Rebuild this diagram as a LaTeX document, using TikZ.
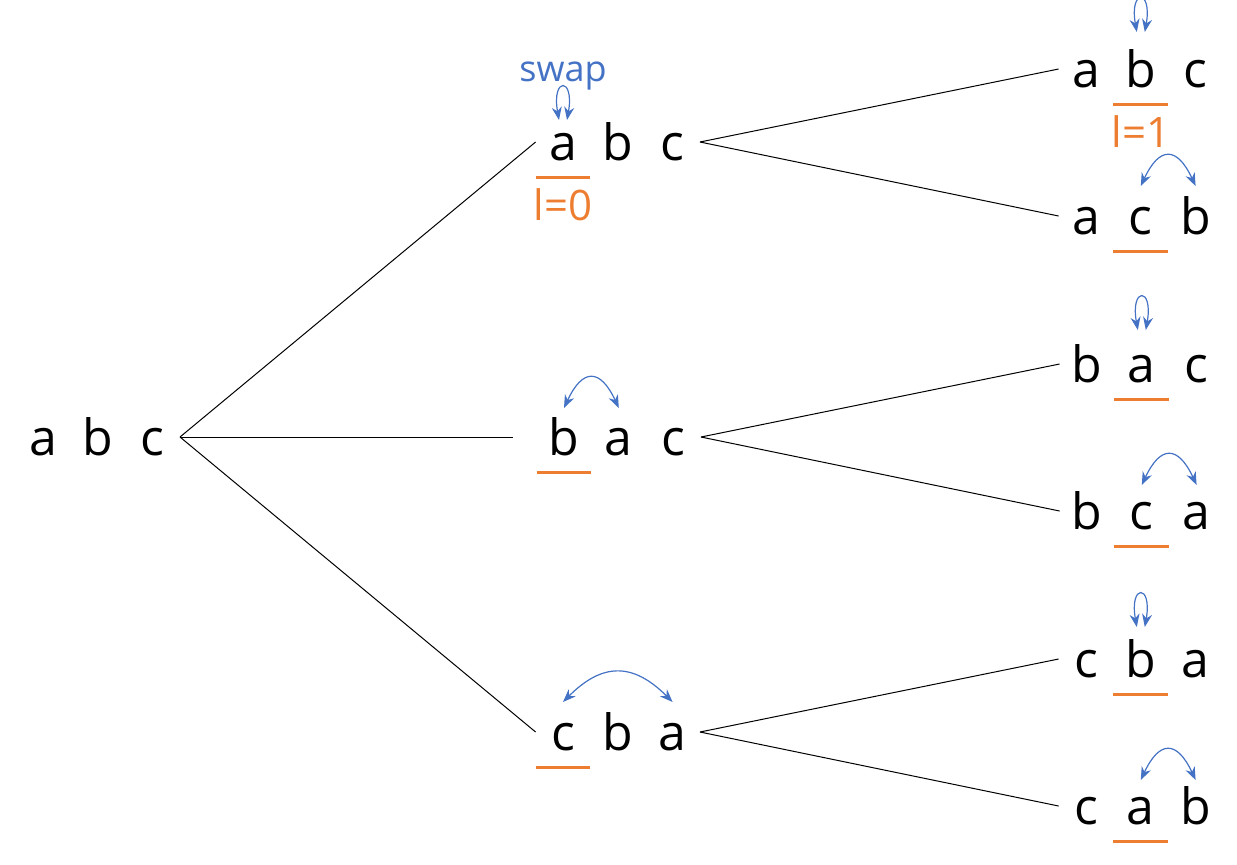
\documentclass[tikz,border=0pt]{standalone}
\usepackage{fontspec}
\setmainfont{Open Sans}
\usetikzlibrary{arrows.meta, positioning}
\definecolor{swapblue}{HTML}{4472C4}
\definecolor{fixorange}{HTML}{ED7D31}
% three letters of one permutation, named #1-1, #1-2, #1-3
\newcommand{\perm}[5]{%
  \node[letter] (#1-1) at (#2) {#3};
  \node[letter, right=0pt of #1-1] (#1-2) {#4};
  \node[letter, right=0pt of #1-2] (#1-3) {#5};}

\begin{document}
\begin{tikzpicture}[x=0.5pt, y=-0.5pt,
  >={Stealth[length=6.5pt, width=5pt]},
  letter/.style={inner xsep=0pt, inner ysep=8.5pt, minimum width=27pt,
    text height=18pt, text depth=0pt, font=\fontsize{25pt}{30pt}\selectfont},
  branch/.style={black, line width=0.5pt},
  fixed/.style={fixorange, line width=1.5pt},
  swaparr/.style={<->, swapblue, line width=0.6pt},
  lbl/.style={font=\fontsize{18pt}{22pt}\selectfont}]
  \useasboundingbox (0,0) rectangle (1237,864);

  % root and first level
  \perm{r}{43,437}{a}{b}{c}
  \perm{A}{563,142}{a}{b}{c}
  \perm{B}{564,437}{b}{a}{c}
  \perm{C}{563,732}{c}{b}{a}

  % second level
  \perm{AA}{1086,69}{a}{b}{c}
  \perm{AB}{1086,216}{a}{c}{b}
  \perm{BA}{1087,364}{b}{a}{c}
  \perm{BB}{1087,511}{b}{c}{a}
  \perm{CA}{1086,659}{c}{b}{a}
  \perm{CB}{1086,806}{c}{a}{b}

  % tree branches
  \draw[branch] (r-3.east) -- (A-1.west);
  \draw[branch, shorten >=12pt] (r-3.east) -- (B-1.west);
  \draw[branch] (r-3.east) -- (C-1.west);
  \draw[branch] (A-3.east) -- (AA-1.west);
  \draw[branch] (A-3.east) -- (AB-1.west);
  \draw[branch] (B-3.east) -- (BA-1.west);
  \draw[branch] (B-3.east) -- (BB-1.west);
  \draw[branch] (C-3.east) -- (CA-1.west);
  \draw[branch] (C-3.east) -- (CB-1.west);

  % fixed positions
  \draw[fixed] (A-1.south west) -- (A-1.south east);
  \draw[fixed] (B-1.south west) -- (B-1.south east);
  \draw[fixed] (C-1.south west) -- (C-1.south east);
  \draw[fixed] (AA-2.south west) -- (AA-2.south east);
  \draw[fixed] (AB-2.south west) -- (AB-2.south east);
  \draw[fixed] (BA-2.south west) -- (BA-2.south east);
  \draw[fixed] (BB-2.south west) -- (BB-2.south east);
  \draw[fixed] (CA-2.south west) -- (CA-2.south east);
  \draw[fixed] (CB-2.south west) -- (CB-2.south east);
  \node[lbl, text=fixorange, font=\fontsize{21pt}{25pt}\selectfont,
    below=2pt of A-1] (l0) {l=0};
  \node[lbl, text=fixorange, font=\fontsize{21pt}{25pt}\selectfont,
    below=2pt of AA-2] (l1) {l=1};

  % swaps
  \draw[swaparr] ([xshift=-2pt, yshift=11pt]A-1.center)
    to[out=100, in=80, distance=22pt] ([xshift=2pt, yshift=11pt]A-1.center);
  \node[lbl, text=swapblue, anchor=base] (swap) at (563,81) {swap};
  \draw[swaparr] ([yshift=14.5pt]B-1.center)
    to[out=65, in=115, distance=22pt] ([yshift=14.5pt]B-2.center);
  \draw[swaparr] ([yshift=15pt]C-1.center)
    to[out=45, in=135, distance=28pt] ([yshift=15pt]C-3.center);
  \draw[swaparr] ([xshift=-2pt, yshift=18.5pt]AA-2.center)
    to[out=100, in=80, distance=22pt] ([xshift=2pt, yshift=18.5pt]AA-2.center);
  \draw[swaparr] ([yshift=15pt]AB-2.center)
    to[out=65, in=115, distance=22pt] ([yshift=15pt]AB-3.center);
  \draw[swaparr] ([xshift=-2pt, yshift=17pt]BA-2.center)
    to[out=100, in=80, distance=22pt] ([xshift=2pt, yshift=17pt]BA-2.center);
  \draw[swaparr] ([yshift=13pt]BB-2.center)
    to[out=65, in=115, distance=22pt] ([yshift=13pt]BB-3.center);
  \draw[swaparr] ([xshift=-2pt, yshift=16pt]CA-2.center)
    to[out=100, in=80, distance=22pt] ([xshift=2pt, yshift=16pt]CA-2.center);
  \draw[swaparr] ([yshift=13pt]CB-2.center)
    to[out=65, in=115, distance=22pt] ([yshift=13pt]CB-3.center);
\end{tikzpicture}
\end{document}
